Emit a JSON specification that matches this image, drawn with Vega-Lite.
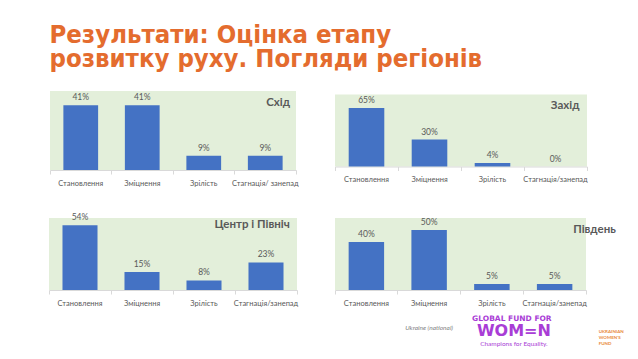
{
  "$schema": "https://vega.github.io/schema/vega-lite/v6.json",
  "background": "white",
  "padding": {"left": 48, "top": 22, "right": 0, "bottom": 0},
  "title": {
    "text": ["Результати: Оцінка етапу", "розвитку руху. Погляди регіонів"],
    "anchor": "start",
    "dx": 1,
    "fontSize": 25.5,
    "lineHeight": 24,
    "font": "DejaVu Sans Condensed",
    "fontWeight": "bold",
    "color": "#E46C2E",
    "offset": 19
  },
  "data": {
    "values": [
      {"region": "Схід", "category": "Становлення", "value": 0.41},
      {"region": "Схід", "category": "Зміцнення", "value": 0.41},
      {"region": "Схід", "category": "Зрілість", "value": 0.09},
      {"region": "Схід", "category": "Стагнація/ занепад", "value": 0.09},
      {"region": "Захід", "category": "Становлення", "value": 0.65},
      {"region": "Захід", "category": "Зміцнення", "value": 0.30},
      {"region": "Захід", "category": "Зрілість", "value": 0.04},
      {"region": "Захід", "category": "Стагнація/занепад", "value": 0.0},
      {"region": "Центр і Північ", "category": "Становлення", "value": 0.54},
      {"region": "Центр і Північ", "category": "Зміцнення", "value": 0.15},
      {"region": "Центр і Північ", "category": "Зрілість", "value": 0.08},
      {"region": "Центр і Північ", "category": "Стагнація/занепад", "value": 0.23},
      {"region": "Південь", "category": "Становлення", "value": 0.40},
      {"region": "Південь", "category": "Зміцнення", "value": 0.50},
      {"region": "Південь", "category": "Зрілість", "value": 0.05},
      {"region": "Південь", "category": "Стагнація/занепад", "value": 0.05}
    ]
  },
  "config": {
    "view": {"fill": "#E3EFDA", "stroke": null},
    "font": "Lato",
    "axisX": {
      "title": null,
      "labelAngle": 0,
      "labelFont": "Lato",
      "labelFontSize": 7.5,
      "labelColor": "#595959",
      "domainColor": "#D9D9D9",
      "tickColor": "#D9D9D9",
      "tickSize": 4,
      "labelPadding": 5,
      "bandPosition": 1,
      "tickExtra": true,
      "labelLimit": 0
    },
    "title": {"anchor": "end", "fontSize": 11.5, "fontWeight": "bold", "color": "#595959", "font": "Lato", "offset": -17, "dx": -8}
  },
  "bounds": "flush",
  "center": true,
  "columns": 2,
  "spacing": {"row": 48, "column": 38},
  "concat": [
    {
      "width": 246, "height": 79,
      "title": "Схід",
      "transform": [{"filter": "datum.region === 'Схід'"}],
      "encoding": {
        "x": {"field": "category", "type": "nominal", "sort": null, "scale": {"paddingInner": 0, "paddingOuter": 0}},
        "y": {"field": "value", "type": "quantitative", "scale": {"domain": [0, 0.5]}, "axis": null}
      },
      "layer": [
        {"mark": {"type": "bar", "color": "#4472C4", "width": {"band": 0.565}}},
        {"mark": {"type": "text", "baseline": "bottom", "dy": -3, "fontSize": 8.5, "color": "#595959"}, "encoding": {"text": {"field": "value", "format": ".0%"}}}
      ]
    },
    {
      "width": 252, "height": 72,
      "title": "Захід",
      "transform": [{"filter": "datum.region === 'Захід'"}],
      "encoding": {
        "x": {"field": "category", "type": "nominal", "sort": null, "scale": {"paddingInner": 0, "paddingOuter": 0}},
        "y": {"field": "value", "type": "quantitative", "scale": {"domain": [0, 0.8]}, "axis": null}
      },
      "layer": [
        {"mark": {"type": "bar", "color": "#4472C4", "width": {"band": 0.565}}},
        {"mark": {"type": "text", "baseline": "bottom", "dy": -3, "fontSize": 8.5, "color": "#595959"}, "encoding": {"text": {"field": "value", "format": ".0%"}}}
      ]
    },
    {
      "width": 248, "height": 72,
      "title": "Центр і Північ",
      "transform": [{"filter": "datum.region === 'Центр і Північ'"}],
      "encoding": {
        "x": {"field": "category", "type": "nominal", "sort": null, "scale": {"paddingInner": 0, "paddingOuter": 0}},
        "y": {"field": "value", "type": "quantitative", "scale": {"domain": [0, 0.6]}, "axis": null}
      },
      "layer": [
        {"mark": {"type": "bar", "color": "#4472C4", "width": {"band": 0.565}}},
        {"mark": {"type": "text", "baseline": "bottom", "dy": -3, "fontSize": 8.5, "color": "#595959"}, "encoding": {"text": {"field": "value", "format": ".0%"}}}
      ]
    },
    {
      "width": 251, "height": 72,
      "title": "Південь",
      "layer": [
        {
          "transform": [{"filter": "datum.region === 'Південь'"}],
          "encoding": {
            "x": {"field": "category", "type": "nominal", "sort": null, "scale": {"paddingInner": 0, "paddingOuter": 0}},
            "y": {"field": "value", "type": "quantitative", "scale": {"domain": [0, 0.6]}, "axis": null}
          },
          "layer": [
            {"mark": {"type": "bar", "color": "#4472C4", "width": {"band": 0.565}}},
            {"mark": {"type": "text", "baseline": "bottom", "dy": -3, "fontSize": 8.5, "color": "#595959"}, "encoding": {"text": {"field": "value", "format": ".0%"}}}
          ]
        },
        {"data": {"values": [{"label": "Ukraine (national)"}]}, "mark": {"type": "text", "clip": false, "fontSize": 6.5, "fontStyle": "italic", "color": "#7F7F7F", "baseline": "alphabetic"}, "encoding": {"x": {"datum": "Зміцнення", "type": "nominal"}, "y": {"datum": -0.333, "type": "quantitative"}, "text": {"field": "label"}}},
        {"data": {"values": [{"label": "GLOBAL FUND FOR"}]}, "mark": {"type": "text", "clip": false, "font": "DejaVu Sans", "fontSize": 7.5, "fontWeight": "bold", "color": "#A93DD6", "baseline": "alphabetic", "dx": 20}, "encoding": {"x": {"datum": "Зрілість", "type": "nominal"}, "y": {"datum": -0.26, "type": "quantitative"}, "text": {"field": "label"}}},
        {"data": {"values": [{"label": "WOM=N"}]}, "mark": {"type": "text", "clip": false, "font": "DejaVu Sans", "fontSize": 16, "fontWeight": "bold", "color": "#A93DD6", "baseline": "alphabetic", "dx": 22}, "encoding": {"x": {"datum": "Зрілість", "type": "nominal"}, "y": {"datum": -0.383, "type": "quantitative"}, "text": {"field": "label"}}},
        {"data": {"values": [{"label": "Champions for Equality."}]}, "mark": {"type": "text", "clip": false, "fontSize": 6.5, "color": "#A93DD6", "baseline": "alphabetic", "dx": 22}, "encoding": {"x": {"datum": "Зрілість", "type": "nominal"}, "y": {"datum": -0.465, "type": "quantitative"}, "text": {"field": "label"}}},
        {"data": {"values": [{"label": "UKRAINIAN"}]}, "mark": {"type": "text", "clip": false, "fontSize": 4.5, "fontWeight": "bold", "color": "#E8893A", "baseline": "alphabetic", "align": "left", "dx": 44, "lineHeight": 6}, "encoding": {"x": {"datum": "Стагнація/занепад", "type": "nominal"}, "y": {"datum": -0.355, "type": "quantitative"}, "text": {"value": ["UKRAINIAN", "WOMEN'S", "FUND"]}}}
      ]
    }
  ]
}
